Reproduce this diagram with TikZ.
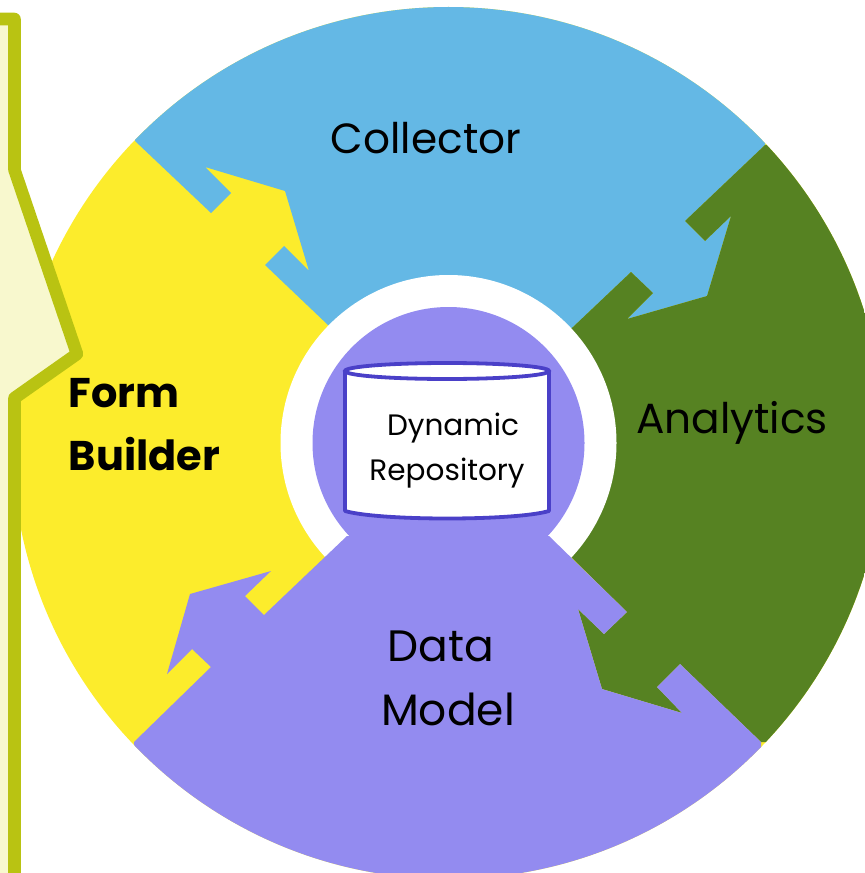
\documentclass[tikz,border=0pt]{standalone}
\usepackage{fontspec}
\setmainfont{Poppins}
\definecolor{collectorblue}{HTML}{64B8E5}
\definecolor{formyellow}{HTML}{FCEC2C}
\definecolor{analyticsgreen}{HTML}{568222}
\definecolor{modelpurple}{HTML}{938BF0}
\definecolor{repoline}{HTML}{4A40C8}
\definecolor{panelfill}{HTML}{F8F8CE}
\definecolor{panelline}{HTML}{B9C312}
\tikzset{
  bigtext/.style={text=black,font=\fontsize{12.5pt}{15pt}\selectfont,inner sep=0pt,anchor=base},
  widetext/.style={bigtext,font=\fontsize{12pt}{15pt}\selectfont},
  boldtext/.style={text=black,font=\fontsize{11.8pt}{15pt}\selectfont\bfseries,inner sep=0pt,anchor=base west},
  repotext/.style={text=black,font=\fontsize{8.4pt}{10pt}\selectfont,inner sep=0pt,anchor=base},
}
\begin{document}
\begin{tikzpicture}[x=0.01cm,y=-0.01cm]
\clip (0,0) rectangle (865,873);
\coordinate (centre) at (448.5,443);
\begin{scope}
\clip (centre) circle [radius=436];
% the four sectors
\fill[formyellow] (0,0) rectangle (865,873);
\fill[collectorblue] (135,141) -- (211,213) -- (231,193) -- (205,167) -- (285,191) -- (309,271) -- (284,246) -- (265,265) -- (328,325) -- (centre) -- (573,327) -- (631,272) -- (653,293) -- (627,319) -- (707,296) -- (731,216) -- (705,241) -- (685,221) -- (765,145) -- (765,-20) -- (135,-20) -- cycle;
\fill[analyticsgreen] (573,327) -- (631,272) -- (653,293) -- (627,319) -- (707,296) -- (731,216) -- (705,241) -- (685,221) -- (765,145) -- (900,145) -- (900,742) -- (761,742) -- (680,664) -- (657,687) -- (682,713) -- (602,689) -- (578,609) -- (604,634) -- (627,612) -- (571,557) -- (centre) -- cycle;
\fill[white] (centre) circle [radius=168];
\fill[modelpurple] (347,536) -- (264,615) -- (245,596) -- (271,571) -- (190,594) -- (167,674) -- (192,649) -- (211,667) -- (134,742) -- (134,900) -- (761,900) -- (761,742) -- (680,664) -- (657,687) -- (682,713) -- (602,689) -- (578,609) -- (604,634) -- (627,612) -- (549,536) -- cycle;
\fill[modelpurple] (centre) circle [radius=136];
\end{scope}
% repository
\draw[repoline,line width=0.038cm,fill=white,line join=round] (345,371) -- (345,511) .. controls (380,521) and (515,521) .. (549,511) -- (549,371);
\draw[repoline,line width=0.038cm,fill=white] (447,371) ellipse [x radius=102,y radius=8];
% panel on the left
\draw[panelline,fill=panelfill,line width=0.125cm,line join=round] (-20,19) -- (14.5,19) -- (14.5,170) -- (77,354) -- (14.5,398) -- (14.5,900) -- (-20,900);
% labels
\node[widetext] (collector) at (426,153) {Collector};
\node[widetext] (analytics) at (732,433) {Analytics};
\node[bigtext] (data) at (441,661) {Data};
\node[bigtext] (model) at (448,725) {Model};
\node[boldtext] (form) at (68,407) {Form};
\node[boldtext] (builder) at (68,470) {Builder};
\node[repotext] (dynamic) at (453,435) {Dynamic};
\node[repotext] (repository) at (447,480) {Repository};
\end{tikzpicture}
\end{document}
